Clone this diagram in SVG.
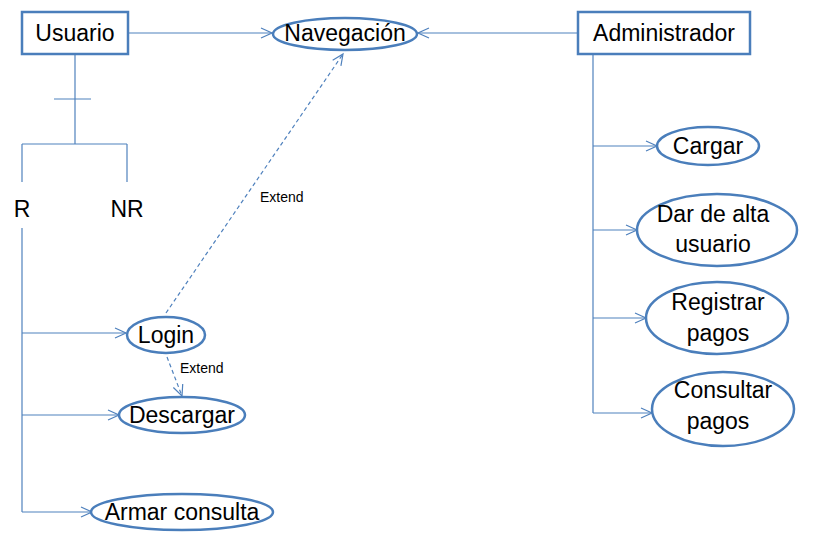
<svg xmlns="http://www.w3.org/2000/svg" width="833" height="547" viewBox="0 0 833 547">
<style>
.box{fill:#fff;stroke:#4a7ebb;stroke-width:2.5}
.uc{fill:#fff;stroke:#4a7ebb;stroke-width:2.5}
.t{font-family:"Liberation Sans",Arial,sans-serif;font-size:23px;fill:#000;text-anchor:middle}
.s{font-family:"Liberation Sans",Arial,sans-serif;font-size:14px;fill:#000}
.c{fill:none;stroke:#4f81bd;stroke-width:1.2}
.a{marker-end:url(#arr)}
.d{stroke-dasharray:4,3}
</style>
<defs>
<marker id="arr" markerUnits="userSpaceOnUse" markerWidth="14" markerHeight="12" refX="12" refY="6" orient="auto" viewBox="0 0 14 12">
<path d="M1,1 L12,6 L1,11" fill="none" stroke="#4f81bd" stroke-width="1.2"/>
</marker>
</defs>
<g id="connectors">
<line class="c a" x1="128" y1="33" x2="272" y2="33"/>
<line class="c a" x1="578" y1="33" x2="418" y2="33"/>
<line class="c" x1="75" y1="54" x2="75" y2="144"/>
<line class="c" x1="54" y1="99" x2="91" y2="99"/>
<line class="c" x1="22" y1="144" x2="127" y2="144"/>
<line class="c" x1="22" y1="144" x2="22" y2="182"/>
<line class="c" x1="127" y1="144" x2="127" y2="182"/>
<line class="c" x1="22" y1="228" x2="22" y2="512"/>
<line class="c a" x1="22" y1="333" x2="126" y2="333"/>
<line class="c a" x1="22" y1="415" x2="119" y2="415"/>
<line class="c a" x1="22" y1="512" x2="92" y2="512"/>
<line class="c d a" x1="166" y1="313" x2="343" y2="54"/>
<line class="c d a" x1="167" y1="357" x2="182" y2="396"/>
<line class="c" x1="593" y1="54" x2="593" y2="413"/>
<line class="c a" x1="593" y1="146" x2="657" y2="146"/>
<line class="c a" x1="593" y1="230" x2="637" y2="230"/>
<line class="c a" x1="593" y1="318" x2="646" y2="318"/>
<line class="c a" x1="593" y1="413" x2="652" y2="413"/>
<text class="s" x="260" y="202">Extend</text>
<text class="s" x="180" y="373">Extend</text>
</g>
<g id="usuario">
<rect class="box" x="22" y="12" width="106" height="42"/>
<text class="t" x="75" y="41">Usuario</text>
</g>
<g id="administrador">
<rect class="box" x="578" y="12" width="172" height="42"/>
<text class="t" x="664" y="41">Administrador</text>
</g>
<g id="navegacion">
<ellipse class="uc" cx="345" cy="34" rx="72" ry="16"/>
<text class="t" x="345" y="41">Navegación</text>
</g>
<g id="r">
<text class="t" x="22" y="217">R</text>
</g>
<g id="nr">
<text class="t" x="127" y="217">NR</text>
</g>
<g id="login">
<ellipse class="uc" cx="166" cy="335" rx="39" ry="18"/>
<text class="t" x="166" y="343">Login</text>
</g>
<g id="descargar">
<ellipse class="uc" cx="182" cy="415" rx="63" ry="18"/>
<text class="t" x="182" y="423">Descargar</text>
</g>
<g id="armar">
<ellipse class="uc" cx="182" cy="512" rx="91" ry="18"/>
<text class="t" x="182" y="520">Armar consulta</text>
</g>
<g id="cargar">
<ellipse class="uc" cx="708" cy="146" rx="51" ry="19"/>
<text class="t" x="708" y="154">Cargar</text>
</g>
<g id="daralta">
<ellipse class="uc" cx="717" cy="230" rx="80" ry="36"/>
<text class="t" x="713" y="222">Dar de alta</text>
<text class="t" x="713" y="252">usuario</text>
</g>
<g id="registrar">
<ellipse class="uc" cx="717" cy="318" rx="71" ry="36"/>
<text class="t" x="718" y="310">Registrar</text>
<text class="t" x="718" y="341">pagos</text>
</g>
<g id="consultar">
<ellipse class="uc" cx="723" cy="409" rx="71" ry="37"/>
<text class="t" x="723" y="398">Consultar</text>
<text class="t" x="718" y="429">pagos</text>
</g>
</svg>
